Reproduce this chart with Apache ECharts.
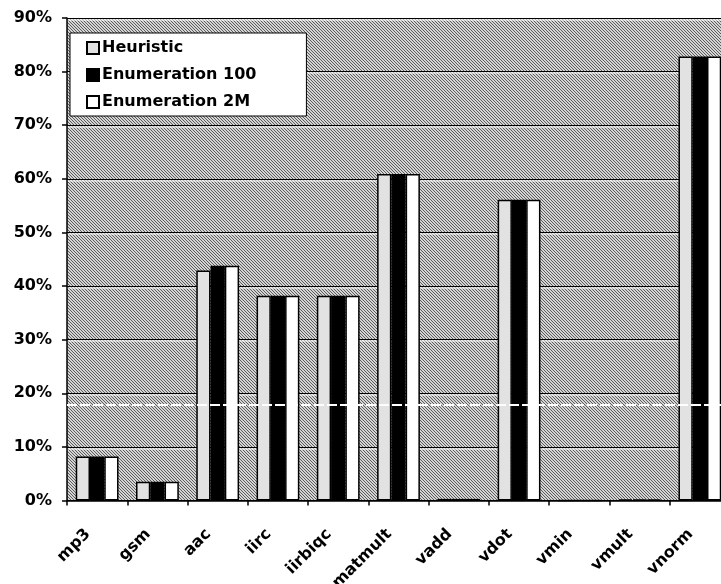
<!DOCTYPE html>
<html>
<head>
<meta charset="utf-8">
<script src="https://cdn.jsdelivr.net/npm/echarts@6/dist/echarts.min.js"></script>
<style>
  html, body { margin: 0; padding: 0; background: #ffffff; }
  #chart { width: 721px; height: 584px; }
</style>
</head>
<body>
<div id="chart"></div>
<script>
// Benchmarks on the x axis
var categories = ['mp3', 'gsm', 'aac', 'iirc', 'iirbiqc', 'matmult', 'vadd', 'vdot', 'vmin', 'vmult', 'vnorm'];

// Percentages per method
var heuristic      = [8.2, 3.5, 42.9, 38.2, 38.2, 60.9, 0.3, 56.1, 0.0, 0.2, 82.8];
var enumeration100 = [8.2, 3.5, 43.8, 38.2, 38.2, 60.9, 0.3, 56.1, 0.0, 0.2, 82.8];
var enumeration2M  = [8.2, 3.5, 43.8, 38.2, 38.2, 60.9, 0.3, 56.1, 0.0, 0.2, 82.8];

var seriesNames = ['Heuristic', 'Enumeration 100', 'Enumeration 2M'];

// Y axis ticks (percent)
var yTicks = [0, 10, 20, 30, 40, 50, 60, 70, 80, 90];

// Hatched grey fill for the plotting area
function hatchPattern() {
  var c = document.createElement('canvas');
  c.width = 3; c.height = 3;
  var ctx = c.getContext('2d');
  ctx.fillStyle = '#d4d4d4';
  ctx.fillRect(0, 0, 3, 3);
  ctx.fillStyle = '#5c5c5c';
  for (var i = 0; i < 3; i++) ctx.fillRect(i, i, 1, 1);
  return { image: c, repeat: 'repeat' };
}

var font = 'DejaVu Sans, Liberation Sans, sans-serif';
var chart = echarts.init(document.getElementById('chart'), null, { renderer: 'canvas' });

var barBorder = { borderColor: '#000', borderWidth: 1.5 };

chart.setOption({
  animation: false,
  backgroundColor: '#ffffff',
  grid: {
    show: true,
    left: 67,
    top: 18,
    width: 663,
    height: 482.5,
    containLabel: false,
    outerBoundsMode: 'none',
    backgroundColor: hatchPattern(),
    borderWidth: 0
  },
  legend: {
    data: seriesNames,
    orient: 'vertical',
    left: 70,
    top: 33,
    backgroundColor: '#ffffff',
    borderColor: '#000',
    borderWidth: 1,
    padding: [6, 50, 5, 16],
    itemWidth: 12,
    itemHeight: 12,
    itemGap: 9,
    icon: 'rect',
    textStyle: { fontFamily: font, fontSize: 16, fontWeight: 'bold', color: '#000', padding: [0, 0, 0, -2], lineHeight: 18 }
  },
  xAxis: {
    type: 'category',
    data: categories,
    boundaryGap: true,
    axisLine: { lineStyle: { color: '#000', width: 1.5 } },
    axisTick: { show: true, length: 5, inside: false, lineStyle: { color: '#000', width: 1.5 } },
    axisLabel: {
      interval: 0,
      rotate: 45,
      margin: 22,
      padding: [0, 13, 0, 0],
      fontFamily: font,
      fontSize: 16,
      fontWeight: 'bold',
      color: '#000'
    },
    splitLine: { show: false }
  },
  yAxis: {
    type: 'value',
    min: yTicks[0],
    max: yTicks[yTicks.length - 1],
    interval: 10,
    axisLine: { show: true, lineStyle: { color: '#000', width: 1.5 } },
    axisTick: { show: true, length: 5, lineStyle: { color: '#000', width: 1.5 } },
    axisLabel: {
      formatter: '{value}%',
      margin: 15,
      fontFamily: font,
      fontSize: 16,
      fontWeight: 'bold',
      color: '#000'
    },
    splitLine: {
      show: true,
      lineStyle: { color: '#000', width: 1.2, shadowColor: '#ffffff', shadowOffsetY: 1.5, shadowBlur: 0 }
    }
  },
  series: [
    {
      name: seriesNames[0],
      type: 'bar',
      data: heuristic,
      barGap: '0%',
      barCategoryGap: '29%',
      itemStyle: Object.assign({ color: '#e2e2e2' }, barBorder)
    },
    {
      name: seriesNames[1],
      type: 'bar',
      data: enumeration100,
      itemStyle: Object.assign({ color: '#000000' }, barBorder)
    },
    {
      name: seriesNames[2],
      type: 'bar',
      data: enumeration2M,
      itemStyle: Object.assign({ color: '#ffffff' }, barBorder),
      markLine: {
        silent: true,
        symbol: 'none',
        z: 10,
        label: { show: false },
        lineStyle: { color: '#ffffff', width: 2, type: [10, 3] },
        data: [{ yAxis: 17.8 }]
      }
    }
  ]
});
</script>
</body>
</html>
